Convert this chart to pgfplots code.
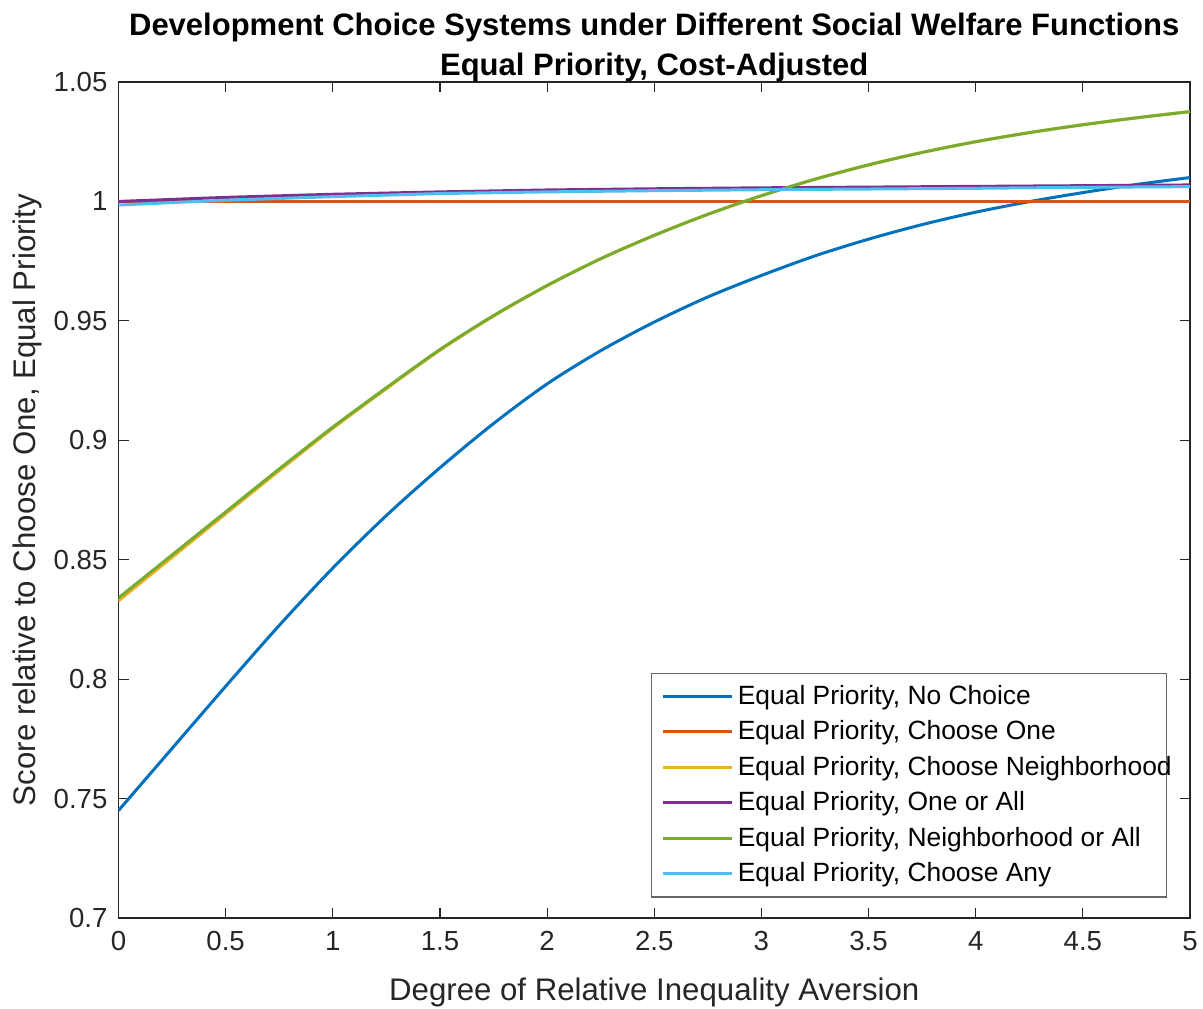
\documentclass[border=0pt]{standalone}
\usepackage{fontspec}
\setmainfont{Liberation Sans}
\usepackage{pgfplots}
\pgfplotsset{compat=1.18}

% MATLAB default line colours
\definecolor{mblue}{rgb}{0,0.447,0.741}
\definecolor{morange}{rgb}{0.850,0.325,0.098}
\definecolor{myellow}{rgb}{0.929,0.694,0.125}
\definecolor{mpurple}{rgb}{0.494,0.184,0.556}
\definecolor{mgreen}{rgb}{0.466,0.674,0.188}
\definecolor{mcyan}{rgb}{0.301,0.745,0.933}
\definecolor{axgray}{rgb}{0.15,0.15,0.15}

% legend labels sit in a fixed-width box, as in the MATLAB legend
\newcommand{\lentry}[1]{\makebox[207pt][l]{#1}}

\begin{document}
\begin{tikzpicture}
\begin{axis}[
  scale only axis,
  width=535.75pt, height=418pt,
  xmin=0, xmax=5, ymin=0.7, ymax=1.05,
  xtick={0,0.5,...,5},
  ytick={0.7,0.75,0.8,0.85,0.9,0.95,1,1.05},
  yticklabels={0.7,0.75,0.8,0.85,0.9,0.95,1,1.05},
  xticklabels={0,0.5,1,1.5,2,2.5,3,3.5,4,4.5,5},
  tick align=inside,
  major tick length=5pt,
  axis line style={axgray, line width=0.6pt},
  every tick/.style={axgray, line width=0.6pt},
  tick label style={font=\fontsize{13.8}{16}\selectfont, text=axgray},
  /pgf/number format/assume math mode=true,
  xticklabel style={yshift=-3pt},
  yticklabel style={xshift=-2pt},
  xlabel={Degree of Relative Inequality Aversion},
  ylabel={Score relative to Choose One, Equal Priority},
  label style={font=\fontsize{15.6}{18}\selectfont, text=axgray},
  xlabel style={at={(axis description cs:0.5,-0.0885)}, anchor=center},
  ylabel style={at={(axis description cs:-0.0854,0.5)}, anchor=center, rotate=0},
  title={Development Choice Systems under Different Social Welfare Functions\\Equal Priority, Cost-Adjusted},
  title style={at={(axis description cs:0.5,1)}, anchor=south, yshift=-9.5pt,
    align=center, font=\bfseries\fontsize{15.5}{20}\selectfont},
  legend style={at={(axis description cs:0.9785,0.0245)}, anchor=south east,
    draw=axgray!70, line width=0.6pt, fill=white,
    font=\fontsize{13.2}{15}\selectfont, text=black,
    row sep=2.7pt, inner xsep=5.25pt, inner ysep=4pt},
  legend cell align=left,
  legend image code/.code={\draw[#1] (0pt,0pt) -- (34.5pt,0pt);},
  every axis plot/.append style={line width=1.5pt},
  clip=true,
]
% No Choice
\addplot[mblue, smooth] coordinates {
 (0,0.745) (0.25,0.771) (0.5,0.797) (0.75,0.8225) (1,0.8465) (1.25,0.8685)
 (1.5,0.8885) (1.75,0.907) (2,0.9236) (2.25,0.9375) (2.5,0.9495) (2.75,0.9600)
 (3,0.9690) (3.25,0.9772) (3.5,0.9842) (3.75,0.9903) (4,0.9955) (4.25,0.9999)
 (4.5,1.0037) (4.75,1.0071) (5,1.0100)};
\addlegendentry{\lentry{Equal Priority, No Choice}}
% Choose One (reference level)
\addplot[morange] coordinates {(0,1) (5,1)};
\addlegendentry{\lentry{Equal Priority, Choose One}}
% Choose Neighborhood
\addplot[myellow, smooth] coordinates {
 (0,0.8328) (0.25,0.8510) (0.5,0.8692) (0.75,0.8873) (1,0.9050) (1.25,0.9216)
 (1.5,0.9377) (1.75,0.9520) (2,0.9647) (2.25,0.976) (2.5,0.9858) (2.75,0.9946)
 (3,1.0024) (3.25,1.0093) (3.5,1.0153) (3.75,1.0205) (4,1.025) (4.25,1.0288)
 (4.5,1.0321) (4.75,1.035) (5,1.0376)};
\addlegendentry{\lentry{Equal Priority, Choose Neighborhood}}
% One or All
\addplot[mpurple] coordinates {
 (0,1.0000) (0.5,1.0017) (1,1.0030) (1.5,1.0040) (2,1.0048) (2.5,1.0053)
 (3,1.0057) (3.5,1.0060) (4,1.0063) (4.5,1.0066) (5,1.0069)};
\addlegendentry{\lentry{Equal Priority, One or All}}
% Neighborhood or All
\addplot[mgreen, smooth] coordinates {
 (0,0.834) (0.25,0.852) (0.5,0.870) (0.75,0.888) (1,0.9055) (1.25,0.922)
 (1.5,0.938) (1.75,0.9522) (2,0.9648) (2.25,0.976) (2.5,0.9858) (2.75,0.9946)
 (3,1.0024) (3.25,1.0093) (3.5,1.0153) (3.75,1.0205) (4,1.025) (4.25,1.0288)
 (4.5,1.0321) (4.75,1.035) (5,1.0376)};
\addlegendentry{\lentry{Equal Priority, Neighborhood or All}}
% Choose Any
\addplot[mcyan] coordinates {
 (0,0.9985) (0.5,1.0005) (1,1.0020) (1.5,1.0033) (2,1.0040) (2.5,1.0045)
 (3,1.0049) (3.5,1.0052) (4,1.0055) (4.5,1.0059) (5,1.0062)};
\addlegendentry{\lentry{Equal Priority, Choose Any}}
\coordinate (SW) at (rel axis cs:0,0);
\end{axis}
\pgfresetboundingbox
\path[use as bounding box] ([shift={(-59.25pt,-45pt)}]SW) rectangle ([shift={(542.25pt,459pt)}]SW);
\end{tikzpicture}
\end{document}
